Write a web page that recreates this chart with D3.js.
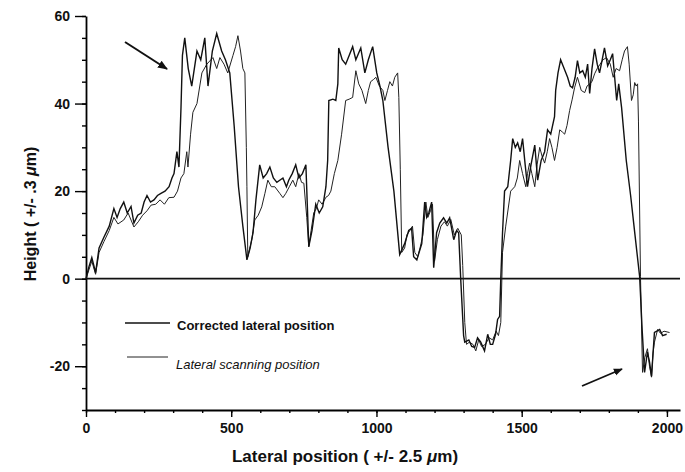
<!DOCTYPE html>
<html>
<head>
<meta charset="utf-8">
<script src="https://cdn.jsdelivr.net/npm/d3@7"></script>
<style>
  body { margin: 0; background: #fff; }
  svg text { font-family: "Liberation Sans", Arial, sans-serif; fill: #111; }
</style>
</head>
<body>
<svg id="chart" width="685" height="472"></svg>
<script>
// x: lateral position, y: height
const corrected = [[0,0],[10,2.7],[20,4.8],[33,1.4],[45,7],[62,9.5],[80,12],[96,16],[107,14],[118,16],[130,17.5],[142,15],[155,16.5],[165,12.7],[178,14.5],[190,15],[200,17.5],[210,19],[222,17.5],[234,18],[246,19],[258,19.5],[272,20],[286,21],[296,23],[303,24],[313,29],[320,25.5],[327,39],[332,51],[340,55],[352,48],[364,44],[382,52],[395,50],[409,55],[420,44],[435,52],[450,56],[467,52],[480,50],[495,47],[510,35],[525,21],[540,12],[554,4.3],[565,7],[575,10.5],[585,18],[598,26],[610,23],[622,24],[633,25.5],[645,23],[657,22],[678,23],[690,21],[698,22.5],[710,24],[722,26],[733,23],[745,24],[757,26],[767,7.3],[778,11],[791,17],[803,15],[815,16.4],[826,21],[832,27],[836,40.7],[850,41],[860,40.7],[867,44.5],[870,52.7],[882,50],[894,49],[906,51],[918,53],[929,50],[946,52.7],[960,47],[972,50],[987,53],[1001,47],[1012,44],[1022,40.7],[1040,30],[1060,20],[1080,5.5],[1097,8],[1111,11],[1121,11.5],[1128,5],[1139,4.3],[1156,8],[1166,17.5],[1173,14],[1180,15],[1190,17.5],[1197,2.5],[1207,10.5],[1218,12.7],[1231,13.9],[1242,12.7],[1252,13.9],[1266,8.9],[1276,11],[1283,10.5],[1290,0],[1300,-13],[1304,-14.5],[1318,-14],[1328,-15.5],[1338,-15.7],[1348,-13.5],[1359,-14.5],[1372,-16.5],[1383,-12.7],[1392,-15],[1400,-15],[1410,-12.7],[1417,-9.3],[1424,-8.6],[1428,0],[1434,10.5],[1441,20],[1452,21],[1462,27],[1469,32],[1478,30],[1486,31],[1495,29],[1503,32],[1512,26],[1520,21],[1532,26],[1545,30.5],[1555,22.5],[1567,27],[1579,29],[1589,34],[1600,33],[1613,37],[1617,43],[1625,47],[1634,50],[1646,48],[1658,46],[1667,44],[1675,43.6],[1684,46],[1692,49.8],[1700,47],[1710,47.5],[1719,46],[1727,49],[1734,42.3],[1742,48],[1751,52.5],[1760,49],[1768,47],[1777,50],[1785,52.7],[1796,48.6],[1805,50],[1813,51.4],[1820,46],[1827,40.7],[1834,44.5],[1844,39],[1860,27],[1875,19],[1890,10],[1906,0.5],[1915,-12],[1923,-21.4],[1933,-16.8],[1940,-19],[1947,-22.3],[1957,-12.3],[1965,-12],[1975,-11.6],[1985,-13],[1999,-12.7]];

const scanning = [[0,0],[10,2],[20,4],[33,1],[45,6],[62,8.5],[80,11],[96,14],[110,12.5],[130,13.4],[145,15],[165,11.8],[180,13],[195,14.5],[210,15.5],[224,16.8],[240,17],[255,18],[270,17],[285,18.5],[303,18.6],[315,20],[327,23],[337,24],[347,29],[351,25.5],[360,33],[368,38],[382,40],[399,47],[416,49],[437,50.5],[450,48],[461,50.5],[475,49],[488,47],[506,51],[515,53],[523,55.5],[532,52],[540,48],[547,47],[552,30],[554,21],[557,5],[564,7],[571,9],[581,13.4],[593,14.5],[605,16.4],[616,19.5],[626,22.5],[638,21],[650,21],[667,19.5],[678,18.5],[688,19.5],[700,21],[712,22.5],[722,21],[733,24],[742,22],[750,21.8],[760,14],[767,7.3],[775,11],[784,15],[793,16],[801,18],[813,17],[826,18.6],[835,19],[843,20],[855,24],[867,27],[880,33],[894,40.7],[906,41],[918,41.4],[929,47.5],[939,44.5],[950,43],[963,40],[972,43],[980,45],[990,45.5],[998,46],[1010,44],[1022,43],[1029,40.7],[1038,43],[1046,45],[1055,44],[1063,46],[1073,47],[1077,41.4],[1082,25],[1087,6],[1097,7],[1105,10],[1115,11],[1124,12],[1132,6],[1142,5],[1150,7],[1160,10],[1170,17.5],[1177,14],[1186,15.5],[1193,17],[1200,4],[1210,9],[1222,12],[1234,13],[1244,12],[1256,13.5],[1268,10],[1280,11.5],[1292,10],[1297,3],[1304,-10],[1310,-15],[1320,-14.5],[1332,-15],[1342,-16.5],[1352,-14],[1362,-15.5],[1375,-15],[1388,-13.5],[1400,-14],[1412,-12],[1420,-13],[1428,-10],[1434,6],[1445,12],[1462,20],[1476,21],[1485,23],[1493,27],[1503,24],[1514,21],[1520,24],[1527,26.4],[1535,24],[1545,21],[1553,26],[1562,30],[1570,28],[1579,26.4],[1588,29],[1596,32],[1604,30],[1613,27],[1622,30],[1631,34],[1640,33.5],[1648,33],[1656,35],[1665,38.4],[1674,41],[1682,43.6],[1692,46],[1705,43],[1717,42.5],[1725,44],[1734,44.5],[1742,45],[1751,46.8],[1760,48],[1770,49],[1780,50],[1792,50.5],[1805,49],[1815,46],[1825,48],[1837,47.5],[1846,50],[1854,52],[1864,53],[1870,49],[1878,40.7],[1884,42],[1889,44.8],[1894,44],[1899,44.5],[1902,36],[1909,0.5],[1916,-21.4],[1924,-18],[1933,-16],[1940,-20],[1947,-22.5],[1952,-17],[1957,-14.5],[1968,-11.6],[1978,-12.5],[1990,-12],[2009,-12.3]];

const xTicks = [0, 500, 1000, 1500, 2000];
const yTicks = [-20, 0, 20, 40, 60];
const legendLabels = ["Corrected lateral position", "Lateral scanning position"];

const svg = d3.select("#chart");
const x = d3.scaleLinear().domain([0, 2045]).range([86, 680]);
const y = d3.scaleLinear().domain([-30, 60]).range([410, 16]);

// minor ticks
svg.append("g")
   .attr("transform", "translate(86,0)")
   .call(d3.axisLeft(y).tickValues(d3.range(-30, 61, 5)).tickSize(4).tickFormat(""))
   .call(g => g.select(".domain").remove());
svg.append("g")
   .attr("transform", "translate(0,410)")
   .call(d3.axisBottom(x).tickValues(d3.range(0, 2001, 100)).tickSize(3).tickFormat(""))
   .call(g => g.select(".domain").remove());

// major axes
svg.append("g")
   .attr("transform", "translate(86,0)")
   .call(d3.axisLeft(y).tickValues(yTicks).tickSize(11).tickSizeOuter(0).tickPadding(5)
      .tickFormat(d => String(d)));
svg.append("g")
   .attr("transform", "translate(0,410)")
   .call(d3.axisBottom(x).tickValues(xTicks).tickSize(7).tickSizeOuter(0).tickPadding(6)
      .tickFormat(d => String(d)));
svg.selectAll(".domain").attr("stroke-width", 1.8);
svg.selectAll(".tick line").attr("stroke-width", 1.4);
svg.selectAll(".tick text").attr("font-size", 14).attr("font-weight", "bold")
   .attr("font-family", "Liberation Sans, Arial, sans-serif");

// zero line
svg.append("line")
   .attr("x1", x(0)).attr("x2", x(2045))
   .attr("y1", y(0)).attr("y2", y(0))
   .attr("stroke", "#111").attr("stroke-width", 1.6);

const line = d3.line().x(d => x(d[0])).y(d => y(d[1]));
svg.append("path").datum(scanning)
   .attr("d", line).attr("fill", "none")
   .attr("stroke", "#222").attr("stroke-width", 1);
svg.append("path").datum(corrected)
   .attr("d", line).attr("fill", "none")
   .attr("stroke", "#111").attr("stroke-width", 1.4);

// legend
svg.append("line").attr("x1", 125).attr("x2", 170).attr("y1", 323).attr("y2", 323)
   .attr("stroke", "#111").attr("stroke-width", 1.4);
svg.append("line").attr("x1", 127).attr("x2", 168).attr("y1", 357).attr("y2", 357)
   .attr("stroke", "#222").attr("stroke-width", 1);
svg.append("text").attr("x", 177).attr("y", 330).attr("font-size", 13)
   .attr("font-weight", "bold").text(legendLabels[0]);
svg.append("text").attr("x", 176).attr("y", 369).attr("font-size", 13)
   .attr("font-style", "italic").text(legendLabels[1]);

// axis titles
const yt = svg.append("text")
   .attr("transform", "translate(36,214) rotate(-90)")
   .attr("text-anchor", "middle").attr("font-size", 16).attr("font-weight", "bold");
yt.append("tspan").text("Height ( +/- .3 ");
yt.append("tspan").attr("font-style", "italic").text("μ");
yt.append("tspan").text("m)");
const xt = svg.append("text")
   .attr("x", 345).attr("y", 462)
   .attr("text-anchor", "middle").attr("font-size", 17).attr("font-weight", "bold");
xt.append("tspan").text("Lateral position ( +/- 2.5 ");
xt.append("tspan").attr("font-style", "italic").text("μ");
xt.append("tspan").text("m)");

// arrows
svg.append("defs").append("marker")
   .attr("id", "head").attr("viewBox", "0 0 10 10")
   .attr("refX", 9).attr("refY", 5)
   .attr("markerWidth", 5).attr("markerHeight", 5)
   .attr("orient", "auto")
   .append("path").attr("d", "M0,1L10,5L0,9Z").attr("fill", "#111");
svg.append("line").attr("x1", 125).attr("y1", 42).attr("x2", 167).attr("y2", 69)
   .attr("stroke", "#111").attr("stroke-width", 2).attr("marker-end", "url(#head)");
svg.append("line").attr("x1", 582).attr("y1", 386).attr("x2", 622).attr("y2", 369)
   .attr("stroke", "#111").attr("stroke-width", 1.8).attr("marker-end", "url(#head)");
</script>
</body>
</html>
